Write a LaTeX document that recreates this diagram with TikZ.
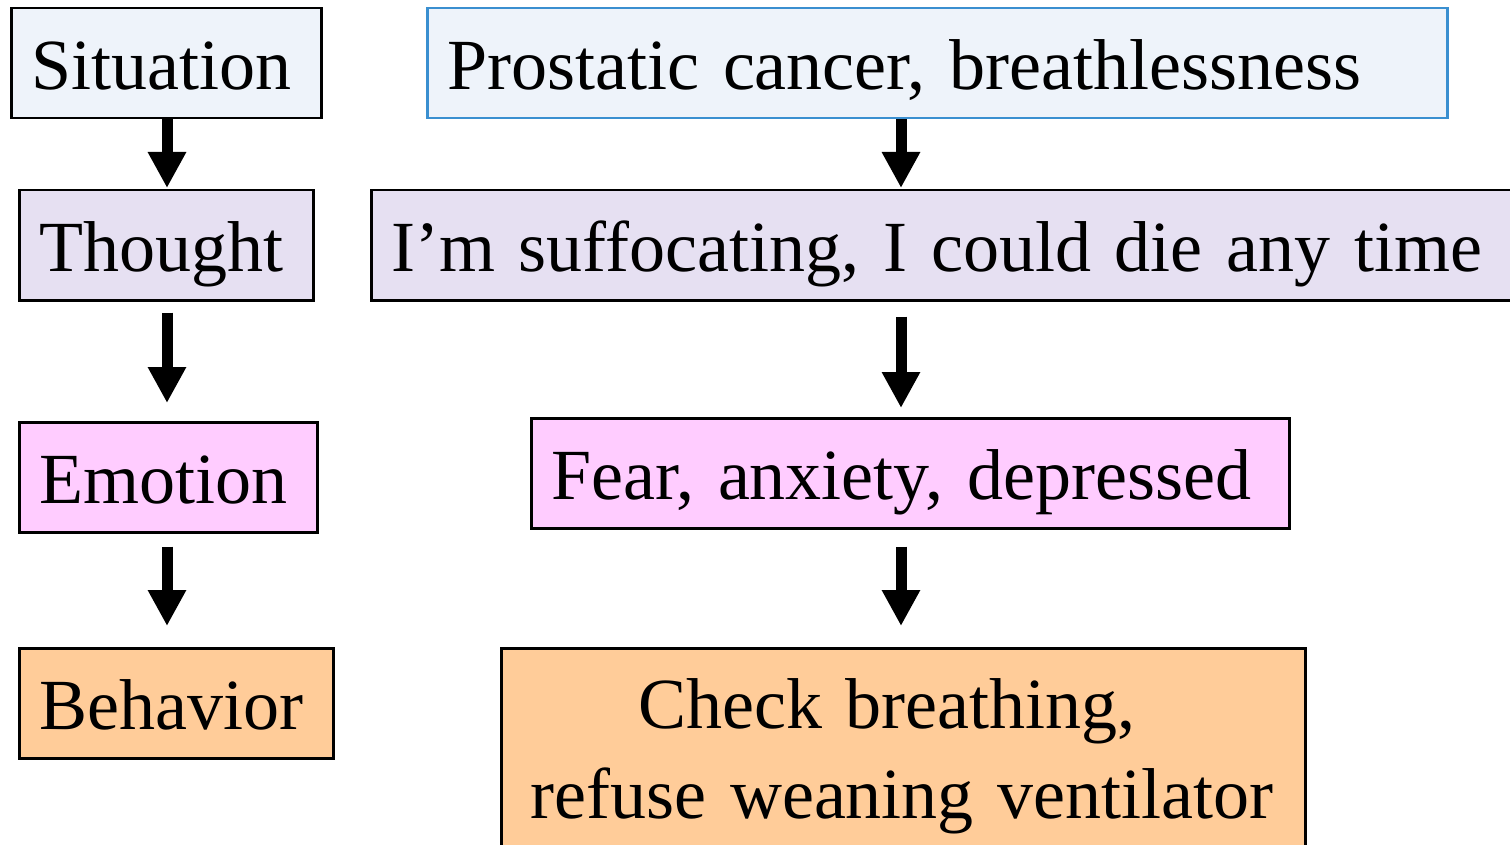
\documentclass[tikz,border=0pt]{standalone}
\usepackage{fontspec}
\setmainfont{Liberation Serif}
\usetikzlibrary{arrows.meta}
\definecolor{sitfill}{RGB}{238,243,250}
\definecolor{thofill}{RGB}{230,224,242}
\definecolor{emofill}{RGB}{255,204,255}
\definecolor{behfill}{RGB}{255,204,153}
\definecolor{problue}{RGB}{58,143,208}
\newcommand{\myBigFont}{\fontsize{72pt}{86pt}\selectfont\spaceskip=0.33em\relax}
\newcommand{\myLeft}[2]{\makebox[#1][l]{#2}}
\begin{document}
\begin{tikzpicture}[x=1pt,y=-1pt,
  box/.style={draw=black, line width=2.5pt, anchor=north west, inner xsep=20pt, inner ysep=0pt,
    minimum height=110pt, text height=52pt, text depth=0pt, font=\myBigFont},
  arr/.style={line width=11pt, -{Triangle[width=36pt,length=36pt]}},
  txt/.style={anchor=base, inner sep=0pt, font=\myBigFont}]
\useasboundingbox (0,0) rectangle (1510,845);
% left column
\node[box, fill=sitfill] (sit) at (10,7) {\myLeft{270pt}{Situation}};
\node[box, fill=thofill] (tho) at (18,189) {\myLeft{254pt}{Thought}};
\node[box, fill=emofill] (emo) at (18,421) {\myLeft{258pt}{Emotion}};
\node[box, fill=behfill] (beh) at (18,647) {\myLeft{274pt}{Behavior}};
% right column
\node[box, fill=sitfill, draw=problue] (pro) at (426,7) {\myLeft{980pt}{Prostatic cancer, breathlessness}};
\node[box, fill=thofill] (ims) at (370,189) {\myLeft{1110pt}{I’m suffocating, I could die any time}};
\node[box, fill=emofill] (fea) at (530,417) {\myLeft{718pt}{Fear, anxiety, depressed}};
\node[box, fill=behfill, minimum height=240pt, minimum width=804pt] (chk) at (500,647) {};
\node[txt] (chk1) at (887,728) {Check breathing,};
\node[txt] (chk2) at (902,818) {refuse weaning ventilator};
% arrows
\coordinate (L) at (167,0);
\coordinate (R) at (901,0);
\draw[arr, shorten >=1pt] (sit.south -| L) -- (tho.north -| L);
\draw[arr, shorten <=11pt, shorten >=18pt] (tho.south -| L) -- (emo.north -| L);
\draw[arr, shorten <=13pt, shorten >=21pt] (emo.south -| L) -- (beh.north -| L);
\draw[arr, shorten >=1pt] (pro.south -| R) -- (ims.north -| R);
\draw[arr, shorten <=15pt, shorten >=9pt] (ims.south -| R) -- (fea.north -| R);
\draw[arr, shorten <=17pt, shorten >=21pt] (fea.south -| R) -- (chk.north -| R);
\end{tikzpicture}
\end{document}
